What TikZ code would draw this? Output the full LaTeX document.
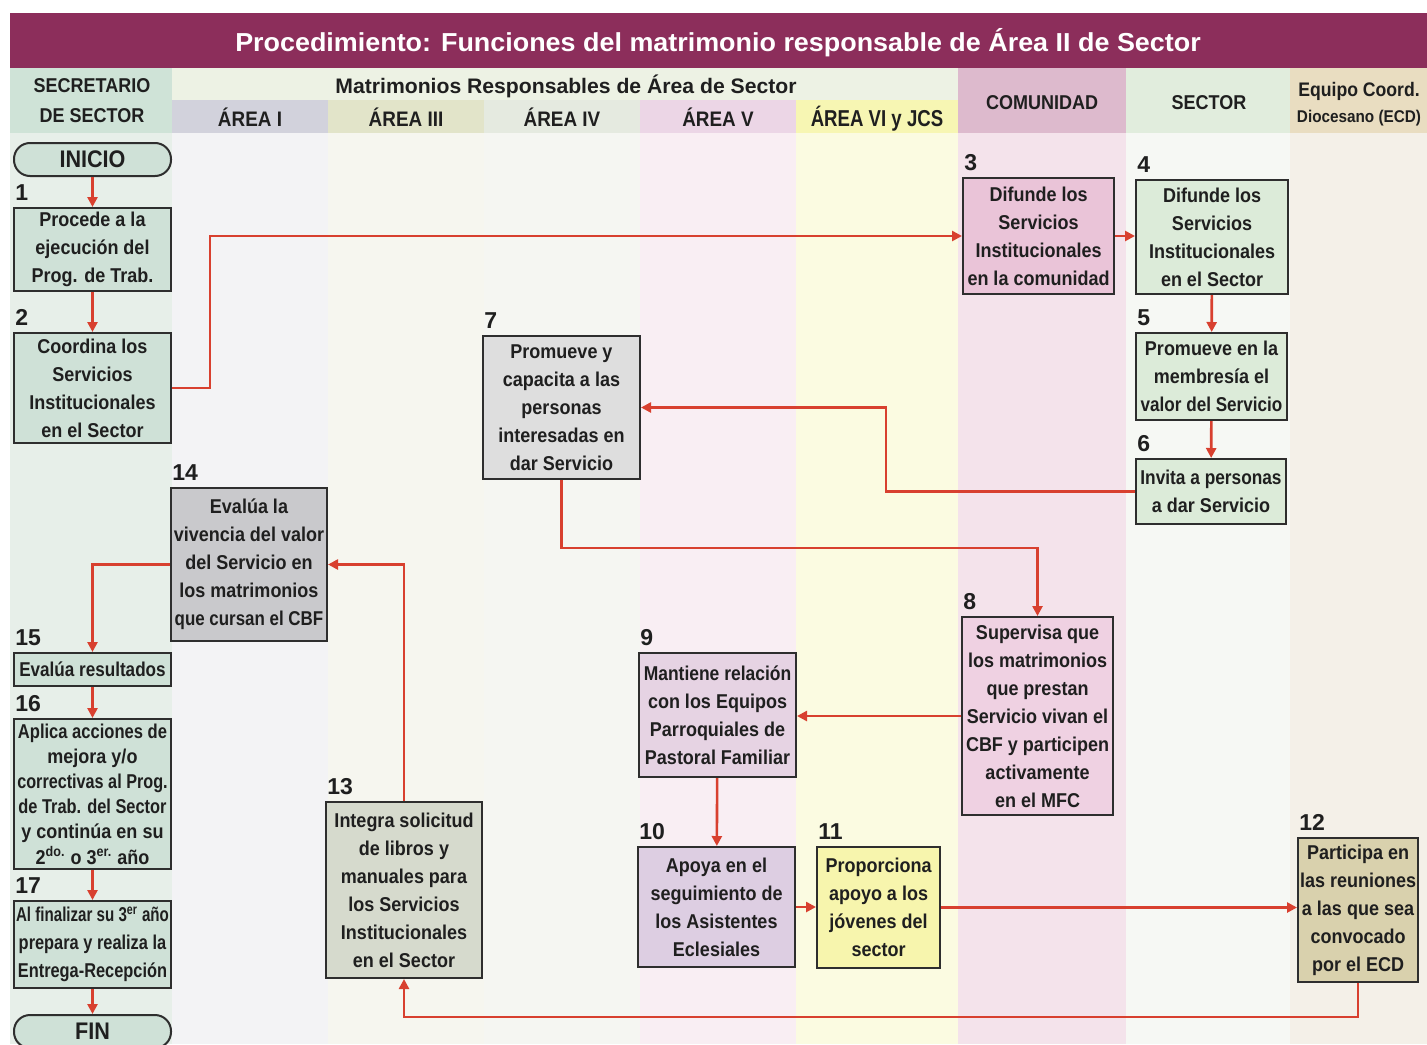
\documentclass[tikz,border=0pt]{standalone}
\usepackage{fontspec}
\usepackage{graphicx}
\setmainfont{Liberation Sans}
\newfontfamily\condfont{Liberation Sans}[FakeStretch=0.9]
\usetikzlibrary{arrows.meta,positioning}
\newcommand{\squeeze}[2]{\scalebox{#1}[1]{#2}}

\definecolor{titlebar}{HTML}{8C2E5B}
\definecolor{ink}{HTML}{1F1F1F}
\definecolor{boxline}{HTML}{2E2E2E}
\definecolor{linkred}{HTML}{D8402F}
% header cells
\definecolor{hdsec}{HTML}{CFE3D7}
\definecolor{hdmat}{HTML}{EDF2E4}
\definecolor{hdone}{HTML}{D2D2DC}
\definecolor{hdthree}{HTML}{E2E4C9}
\definecolor{hdfour}{HTML}{E5EAE0}
\definecolor{hdfive}{HTML}{ECD6E6}
\definecolor{hdsix}{HTML}{F7F6B3}
\definecolor{hdcom}{HTML}{DDBACD}
\definecolor{hdsector}{HTML}{E1EDDD}
\definecolor{hdecd}{HTML}{E9DDC1}
% column bodies
\definecolor{bgsec}{HTML}{E7EFE9}
\definecolor{bgone}{HTML}{F3F3F5}
\definecolor{bgthree}{HTML}{F6F6EF}
\definecolor{bgfour}{HTML}{F5F6F2}
\definecolor{bgfive}{HTML}{F9EEF3}
\definecolor{bgsix}{HTML}{FBFBE1}
\definecolor{bgcom}{HTML}{F4E3EB}
\definecolor{bgsector}{HTML}{F6F8F4}
\definecolor{bgecd}{HTML}{F4F0E8}
% box fills
\definecolor{fsec}{HTML}{CFE1D7}
\definecolor{fcom}{HTML}{EAC4D8}
\definecolor{fsector}{HTML}{DCEBD9}
\definecolor{fgray}{HTML}{DEDEDE}
\definecolor{fpink}{HTML}{EFD1E2}
\definecolor{flav}{HTML}{E6D3E3}
\definecolor{flavb}{HTML}{DDCEE2}
\definecolor{fyel}{HTML}{F7F5AD}
\definecolor{ftan}{HTML}{D9D1AD}
\definecolor{folive}{HTML}{D6DACD}
\definecolor{fgrayb}{HTML}{C9C9CC}

\tikzset{
  box/.style={draw=boxline, line width=1pt, text=ink, align=center, inner sep=0pt,
    font=\condfont\bfseries\fontsize{10}{14}\selectfont},
  endbox/.style={box, rounded corners=8pt, fill=fsec, font=\condfont\bfseries\fontsize{12}{13}\selectfont},
  sz/.style 2 args={minimum width=#1*0.5pt, minimum height=#2*0.5pt},
  num/.style={anchor=base west, inner sep=0pt, text=ink, xshift=1pt, yshift=3.5pt,
    font=\fontsize{11.5}{11}\selectfont\bfseries},
  head/.style={text=ink, align=center, inner sep=0pt},
  link/.style={draw=linkred, line width=1.3pt, -{Triangle[length=5pt,width=5pt]}},
}

\begin{document}
\begin{tikzpicture}[x=0.5pt,y=-0.5pt]
\fill[white] (0,0) rectangle (1427,1044);
\useasboundingbox (0,0) rectangle (1427,1044);

% columns
\fill[bgsec] (10,133) rectangle (172,1044);
\fill[bgone] (172,133) rectangle (328,1044);
\fill[bgthree] (328,133) rectangle (484,1044);
\fill[bgfour] (484,133) rectangle (640,1044);
\fill[bgfive] (640,133) rectangle (796,1044);
\fill[bgsix] (796,133) rectangle (958,1044);
\fill[bgcom] (958,133) rectangle (1126,1044);
\fill[bgsector] (1126,133) rectangle (1290,1044);
\fill[bgecd] (1290,133) rectangle (1427,1044);

% header
\fill[titlebar] (10,13) rectangle (1427,68);
\fill[hdsec] (10,68) rectangle (172,133);
\fill[hdmat] (172,68) rectangle (958,100);
\fill[hdone] (172,100) rectangle (328,133);
\fill[hdthree] (328,100) rectangle (484,133);
\fill[hdfour] (484,100) rectangle (640,133);
\fill[hdfive] (640,100) rectangle (796,133);
\fill[hdsix] (796,100) rectangle (958,133);
\fill[hdcom] (958,68) rectangle (1126,133);
\fill[hdsector] (1126,68) rectangle (1290,133);
\fill[hdecd] (1290,68) rectangle (1427,133);

\node[head, text=white, font=\condfont\bfseries\fontsize{13}{14}\selectfont] (title) at (718,43)
  {\squeeze{1.15}{Procedimiento: Funciones del matrimonio responsable de Área II de Sector}};
\node[head, font=\condfont\bfseries\fontsize{10}{15}\selectfont] (hsec) at (92,101) {SECRETARIO\\DE SECTOR};
\node[head, font=\condfont\bfseries\fontsize{10.5}{12}\selectfont] (hmat) at (566,86)
  {\squeeze{1.12}{Matrimonios Responsables de Área de Sector}};
\node[head, font=\condfont\bfseries\fontsize{10.5}{12}\selectfont] (hone) at (250,117) {ÁREA I};
\node[head, font=\condfont\bfseries\fontsize{10.5}{12}\selectfont] (hthree) at (406,117) {ÁREA III};
\node[head, font=\condfont\bfseries\fontsize{10.5}{12}\selectfont] (hfour) at (562,117) {ÁREA IV};
\node[head, font=\condfont\bfseries\fontsize{10.5}{12}\selectfont] (hfive) at (718,117) {ÁREA V};
\node[head, font=\condfont\bfseries\fontsize{11.5}{12}\selectfont] (hsix) at (877,119) {\squeeze{0.9}{ÁREA VI y JCS}};
\node[head, font=\condfont\bfseries\fontsize{10}{12}\selectfont] (hcom) at (1042,103) {COMUNIDAD};
\node[head, font=\condfont\bfseries\fontsize{10}{12}\selectfont] (hsector) at (1209,103) {SECTOR};
\node[head, font=\condfont\bfseries\fontsize{9.8}{12}\selectfont] (hecd) at (1359,91) {Equipo Coord.};
\node[head, font=\condfont\bfseries\fontsize{8.5}{12}\selectfont] (hdio) at (1359,118) {Diocesano (ECD)};

% steps
\node[endbox, sz={157}{33}] (inicio) at (92.5,159.5) {INICIO};
\node[box, fill=fsec, sz={157}{83}] (b1) at (92.5,249.5) {Procede a la\\ejecución del\\Prog. de Trab.};
\node[box, fill=fsec, sz={157}{110}] (b2) at (92.5,388) {Coordina los\\Servicios\\Institucionales\\en el Sector};
\node[box, fill=fcom, sz={151}{116}] (b3) at (1038.5,236) {Difunde los\\Servicios\\Institucionales\\en la comunidad};
\node[box, fill=fsector, sz={152}{114}] (b4) at (1212,237) {Difunde los\\Servicios\\Institucionales\\en el Sector};
\node[box, fill=fsector, sz={151}{87}] (b5) at (1211.5,376.5) {Promueve en la\\membresía el\\\squeeze{0.95}{valor del Servicio}};
\node[box, fill=fsector, sz={150}{65}] (b6) at (1211,491.5) {\squeeze{0.96}{Invita a personas}\\a dar Servicio};
\node[box, fill=fgray, sz={157}{143}] (b7) at (561.5,407.5) {Promueve y\\capacita a las\\personas\\interesadas en\\dar Servicio};
\node[box, fill=fpink, sz={151}{198}] (b8) at (1037.5,716) {Supervisa que\\los matrimonios\\que prestan\\Servicio vivan el\\CBF y participen\\activamente\\en el MFC};
\node[box, fill=flav, sz={157}{124}] (b9) at (717.5,715) {\squeeze{0.97}{Mantiene relación}\\con los Equipos\\Parroquiales de\\Pastoral Familiar};
\node[box, fill=flavb, sz={157}{120}] (b10) at (716.5,907) {Apoya en el\\seguimiento de\\los Asistentes\\Eclesiales};
\node[box, fill=fyel, sz={123}{121}] (b11) at (878.5,907.5) {Proporciona\\apoyo a los\\jóvenes del\\sector};
\node[box, fill=ftan, sz={120}{144}] (b12) at (1358,910) {Participa en\\las reuniones\\a las que sea\\convocado\\por el ECD};
\node[box, fill=folive, sz={156}{176}] (b13) at (404,890) {Integra solicitud\\de libros y\\manuales para\\los Servicios\\Institucionales\\en el Sector};
\node[box, fill=fgrayb, sz={156}{153}] (b14) at (249,564.5) {Evalúa la\\vivencia del valor\\del Servicio en\\los matrimonios\\\squeeze{0.94}{que cursan el CBF}};
\node[box, fill=fsec, sz={157}{33}] (b15) at (92.5,669.5) {\squeeze{0.95}{Evalúa resultados}};
\node[box, fill=fsec, sz={157}{150}, font=\condfont\bfseries\fontsize{10}{12.6}\selectfont] (b16) at (92.5,794)
  {\squeeze{0.92}{Aplica acciones de}\\mejora y/o\\\squeeze{0.9}{correctivas al Prog.}\\\squeeze{0.91}{de Trab. del Sector}\\y continúa en su\\2\textsuperscript{do.} o 3\textsuperscript{er.} año};
\node[box, fill=fsec, sz={157}{87}] (b17) at (92.5,944.5) {\squeeze{0.84}{Al finalizar su 3\textsuperscript{er} año}\\\squeeze{0.91}{prepara y realiza la}\\\squeeze{0.91}{Entrega-Recepción}};
\node[endbox, sz={157}{33}] (fin) at (92.5,1031.5) {FIN};

% step numbers
\node[num] (n1) at (b1.north west) {1};
\node[num] (n2) at (b2.north west) {2};
\node[num] (n3) at (b3.north west) {3};
\node[num] (n4) at (b4.north west) {4};
\node[num] (n5) at (b5.north west) {5};
\node[num] (n6) at (b6.north west) {6};
\node[num] (n7) at (b7.north west) {7};
\node[num] (n8) at (b8.north west) {8};
\node[num] (n9) at (b9.north west) {9};
\node[num] (n10) at (b10.north west) {10};
\node[num] (n11) at (b11.north west) {11};
\node[num] (n12) at (b12.north west) {12};
\node[num] (n13) at (b13.north west) {13};
\node[num] (n14) at (b14.north west) {14};
\node[num] (n15) at (b15.north west) {15};
\node[num] (n16) at (b16.north west) {16};
\node[num] (n17) at (b17.north west) {17};

% flow
\draw[link] (inicio) -- (b1);
\draw[link] (b1) -- (b2);
\draw[link] (b2.east) -- ++(38,0) |- (b3.west);
\draw[link] (b3.east) -- (b3.east -| b4.west);
\draw[link] (b4) -- (b5);
\draw[link] (b5) -- (b6);
\draw[link] (b6.west) -- ++(-249,0) |- (b7.east);
\draw[link] (b7.south) -- ++(0,68) -| (b8.north);
\draw[link] (b8.west) -- (b8.west -| b9.east);
\draw[link] (b9) -- (b10);
\draw[link] (b10.east) -- (b10.east -| b11.west);
\draw[link] (b11.east) -- (b11.east -| b12.west);
\draw[link] (b12.south) -- ++(0,34) -| (b13.south);
\draw[link] (b13.north) |- (b14.east);
\draw[link] (b14.west) -| (b15.north);
\draw[link] (b15) -- (b16);
\draw[link] (b16) -- (b17);
\draw[link] (b17) -- (fin);
\end{tikzpicture}
\end{document}
